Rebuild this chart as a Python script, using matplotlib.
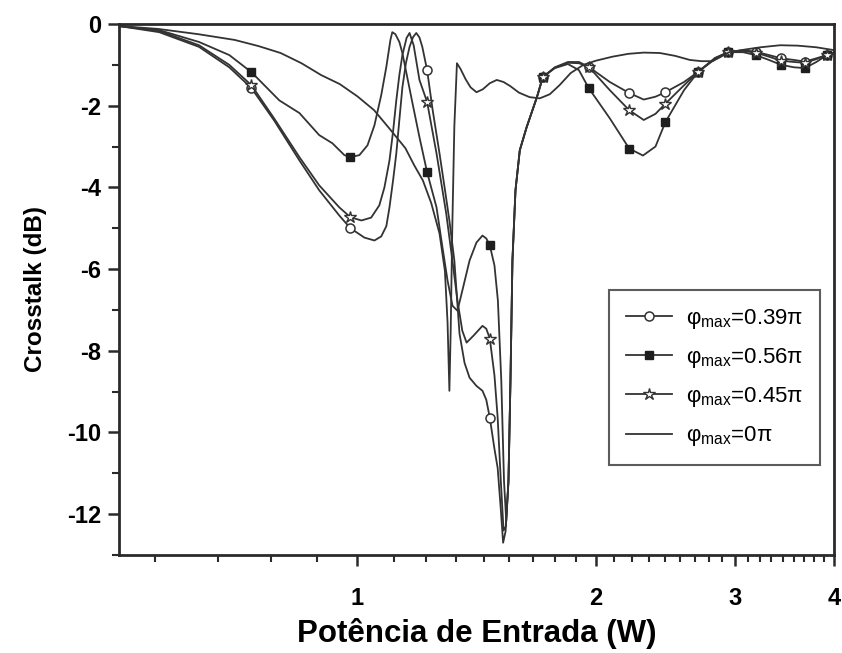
import numpy as np
import matplotlib
matplotlib.use("Agg")
import matplotlib.pyplot as plt
from matplotlib.ticker import FixedLocator, NullFormatter

# Input power (W) and crosstalk (dB) for each maximum nonlinear phase shift
x_039 = [0.500, 0.562, 0.631, 0.689, 0.735, 0.785, 0.845, 0.895, 0.949, 0.980,
         1.021, 1.051, 1.072, 1.088, 1.098, 1.110, 1.120, 1.130, 1.140, 1.152,
         1.164, 1.176, 1.187, 1.198, 1.208, 1.225, 1.245, 1.270, 1.290, 1.307,
         1.326, 1.346, 1.366, 1.386, 1.414, 1.439, 1.455, 1.470, 1.490, 1.504,
         1.518, 1.528, 1.539, 1.552, 1.561, 1.570, 1.584, 1.604, 1.636, 1.686,
         1.715, 1.776, 1.845, 1.905, 1.960, 2.084, 2.205, 2.300, 2.380, 2.450,
         2.586, 2.695, 2.830, 2.940, 3.070, 3.185, 3.310, 3.430, 3.560, 3.675,
         3.800, 3.920, 4.000]
y_039 = [-0.05, -0.20, -0.56, -1.06, -1.57, -2.36, -3.34, -4.07, -4.69, -5.00,
         -5.23, -5.30, -5.20, -4.95, -4.49, -3.80, -3.17, -2.35, -1.55, -0.95,
         -0.56, -0.32, -0.22, -0.33, -0.56, -1.13, -2.11, -3.17, -4.05, -4.81,
         -5.79, -7.58, -8.30, -8.66, -8.86, -8.98, -9.20, -9.64, -10.40, -10.87,
         -11.90, -12.70, -12.42, -11.19, -8.74, -5.79, -4.07, -3.09, -2.53, -1.79,
         -1.30, -1.06, -0.93, -0.93, -1.05, -1.42, -1.69, -1.85, -1.78, -1.67,
         -1.42, -1.17, -0.83, -0.69, -0.64, -0.68, -0.76, -0.84, -0.88, -0.92,
         -0.84, -0.76, -0.71]

x_056 = [0.500, 0.562, 0.631, 0.689, 0.735, 0.797, 0.845, 0.895, 0.930, 0.963,
         0.980, 1.006, 1.030, 1.051, 1.072, 1.088, 1.101, 1.107, 1.117, 1.130,
         1.140, 1.157, 1.174, 1.198, 1.225, 1.259, 1.281, 1.300, 1.319, 1.338,
         1.357, 1.386, 1.414, 1.439, 1.455, 1.470, 1.490, 1.505, 1.520, 1.532,
         1.542, 1.552, 1.561, 1.570, 1.584, 1.604, 1.636, 1.686, 1.715, 1.776,
         1.845, 1.905, 1.960, 2.084, 2.205, 2.295, 2.380, 2.450, 2.586, 2.695,
         2.830, 2.940, 3.070, 3.185, 3.310, 3.430, 3.560, 3.675, 3.800, 3.920,
         4.000]
y_056 = [-0.05, -0.15, -0.44, -0.76, -1.18, -1.87, -2.18, -2.72, -2.92, -3.21,
         -3.26, -3.21, -2.97, -2.48, -1.74, -1.05, -0.39, -0.20, -0.25, -0.44,
         -0.71, -1.33, -1.94, -2.77, -3.63, -4.49, -5.47, -6.28, -6.90, -7.02,
         -6.53, -5.79, -5.35, -5.18, -5.25, -5.42, -5.91, -6.77, -8.74, -11.19,
         -12.17, -11.19, -8.74, -5.79, -4.07, -3.09, -2.53, -1.79, -1.30, -1.08,
         -0.98, -1.13, -1.57, -2.31, -3.05, -3.22, -3.00, -2.40, -1.62, -1.17,
         -0.86, -0.69, -0.69, -0.76, -0.88, -1.00, -1.06, -1.08, -0.93, -0.76,
         -0.69]

x_045 = [0.500, 0.562, 0.631, 0.689, 0.735, 0.785, 0.845, 0.895, 0.949, 0.980,
         1.012, 1.041, 1.066, 1.082, 1.098, 1.110, 1.120, 1.130, 1.140, 1.154,
         1.164, 1.178, 1.198, 1.225, 1.259, 1.295, 1.315, 1.338, 1.357, 1.374,
         1.402, 1.439, 1.455, 1.470, 1.490, 1.504, 1.518, 1.530, 1.540, 1.552,
         1.561, 1.570, 1.584, 1.604, 1.636, 1.686, 1.715, 1.776, 1.845, 1.905,
         1.960, 2.084, 2.205, 2.300, 2.380, 2.450, 2.586, 2.695, 2.830, 2.940,
         3.070, 3.185, 3.310, 3.430, 3.560, 3.675, 3.800, 3.920, 4.000]
y_045 = [-0.05, -0.17, -0.52, -1.00, -1.50, -2.31, -3.26, -3.95, -4.49, -4.73,
         -4.81, -4.74, -4.44, -4.00, -3.34, -2.60, -1.87, -1.25, -0.76, -0.34,
         -0.22, -0.52, -1.37, -1.91, -3.17, -4.64, -5.62, -6.77, -7.51, -7.80,
         -7.63, -7.39, -7.46, -7.70, -8.60, -9.64, -11.20, -12.40, -12.30, -11.19,
         -8.74, -5.79, -4.07, -3.09, -2.53, -1.79, -1.30, -1.07, -0.95, -0.96,
         -1.05, -1.62, -2.11, -2.35, -2.20, -1.95, -1.50, -1.17, -0.84, -0.69,
         -0.66, -0.70, -0.80, -0.90, -0.93, -0.95, -0.86, -0.76, -0.71]

x_000 = [0.50, 0.56, 0.63, 0.70, 0.75, 0.80, 0.85, 0.90, 0.95, 1.00,
         1.05, 1.10, 1.15, 1.18, 1.21, 1.24, 1.27, 1.29, 1.300, 1.307,
         1.312, 1.318, 1.326, 1.336, 1.350, 1.370, 1.390, 1.414, 1.440, 1.470,
         1.500, 1.530, 1.560, 1.600, 1.650, 1.700, 1.750, 1.800, 1.860, 1.930,
         2.00, 2.10, 2.20, 2.30, 2.41, 2.52, 2.63, 2.72, 2.81, 2.88,
         2.95, 3.10, 3.23, 3.42, 3.60, 3.80, 4.00]
y_000 = [-0.05, -0.12, -0.25, -0.39, -0.54, -0.71, -0.96, -1.25, -1.47, -1.77,
         -2.11, -2.58, -3.04, -3.46, -3.83, -4.39, -5.13, -6.04, -7.30, -8.98,
         -7.50, -5.00, -2.50, -0.96, -1.10, -1.35, -1.55, -1.67, -1.60, -1.45,
         -1.37, -1.42, -1.52, -1.68, -1.79, -1.82, -1.72, -1.50, -1.20, -1.00,
         -0.90, -0.80, -0.73, -0.70, -0.71, -0.78, -0.88, -0.91, -0.91, -0.80,
         -0.69, -0.62, -0.57, -0.52, -0.53, -0.57, -0.64]

# Powers at which symbols are plotted on the marked curves
mark_x = [0.735, 0.980, 1.225, 1.470, 1.715, 1.960, 2.205, 2.450, 2.695,
          2.940, 3.185, 3.430, 3.675, 3.920]

labels = ["0.39", "0.56", "0.45", "0"]

xticks_major = [1, 2, 3, 4]
xticks_minor = [k / 9 for k in range(5, 36) if k % 9 != 0]
yticks_major = [0, -2, -4, -6, -8, -10, -12]
yticks_minor = [-1, -3, -5, -7, -9, -11, -13]

plt.rcParams["font.family"] = ["Liberation Sans", "DejaVu Sans"]
plt.rcParams["mathtext.fontset"] = "custom"
plt.rcParams["mathtext.rm"] = "Liberation Sans"
plt.rcParams["mathtext.it"] = "Liberation Sans"

LC = "#333333"
AX = "#2a2a2a"

fig = plt.figure(figsize=(8.42, 6.53), dpi=100)
ax = fig.add_axes([119 / 842, 1 - 555 / 653, 715 / 842, 531 / 653])
ax.set_xscale("log")


def marks(xs):
    return [i for i, v in enumerate(xs) if any(abs(v - m) < 1e-9 for m in mark_x)]


def leg(v):
    return r"$\mathregular{\varphi_{max}}$=" + v + "π"


ax.plot(x_039, y_039, color=LC, lw=1.3, marker="o", ms=6.5, mfc="white",
        mec=LC, mew=1.1, markevery=marks(x_039), label=leg(labels[0]))
ax.plot(x_056, y_056, color=LC, lw=1.3, marker="s", ms=5.8, mfc="#1e1e1e",
        mec="#1e1e1e", mew=1.0, markevery=marks(x_056), label=leg(labels[1]))
ax.plot(x_045, y_045, color=LC, lw=1.3, marker="*", ms=9, mfc="white",
        mec=LC, mew=1.0, markevery=marks(x_045), label=leg(labels[2]))
ax.plot(x_000, y_000, color=LC, lw=1.3, label=leg(labels[3]))

ax.set_xlim(0.5, 4.0)
ax.set_ylim(-13, 0)

ax.xaxis.set_major_locator(FixedLocator(xticks_major))
ax.xaxis.set_minor_locator(FixedLocator(xticks_minor))
ax.xaxis.set_minor_formatter(NullFormatter())
ax.set_xticklabels([str(t) for t in xticks_major])
ax.yaxis.set_major_locator(FixedLocator(yticks_major))
ax.yaxis.set_minor_locator(FixedLocator(yticks_minor))
ax.set_yticklabels([str(t) for t in yticks_major])

for s in ax.spines.values():
    s.set_linewidth(2.0)
    s.set_color(AX)

ax.tick_params(which="major", direction="out", length=8, width=1.8,
               labelsize=17, color=AX)
ax.tick_params(which="minor", direction="out", length=5, width=1.5, color=AX)
ax.tick_params(axis="x", which="major", pad=15)
ax.tick_params(axis="y", which="major", pad=5)
ax.tick_params(top=False, right=False, which="both")
for t in ax.get_xticklabels() + ax.get_yticklabels():
    t.set_fontweight("bold")

ax.set_xlabel("Potência de Entrada (W)", fontsize=22.5, fontweight="bold",
              labelpad=6)
ax.set_ylabel("Crosstalk (dB)", fontsize=17.5, fontweight="bold", labelpad=14)

lg = ax.legend(loc="lower right", bbox_to_anchor=(0.980, 0.1695),
               borderaxespad=0, fancybox=False, frameon=True, fontsize=16,
               handlelength=2.1, numpoints=1, labelspacing=0.68,
               borderpad=0.75, handletextpad=0.6)
lg.get_frame().set_edgecolor("#333333")
lg.get_frame().set_linewidth(1.5)

fig.savefig("out.png", dpi=100)
